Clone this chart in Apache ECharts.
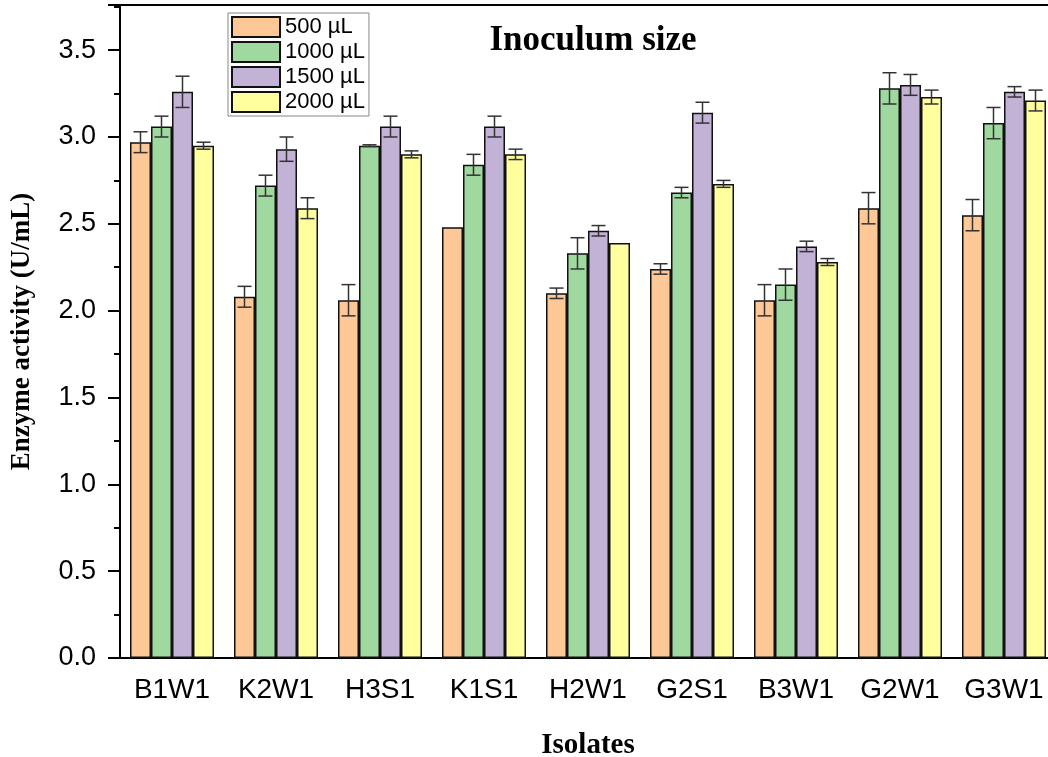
<!DOCTYPE html>
<html>
<head>
    <meta charset="utf-8" />
    <title>Inoculum size</title>
    <script src="https://cdnjs.cloudflare.com/ajax/libs/echarts/6.0.0/echarts.min.js"></script>
    <style>
        body, html {
            margin: 0;
            padding: 0;
            background: #fff;
        }
        #chart {
            width: 1048px;
            height: 757px;
        }
    </style>
</head>
<body>
<div id="chart"></div>
<script type="text/javascript">
    // 数据
    var isolates = ['B1W1', 'K2W1', 'H3S1', 'K1S1', 'H2W1', 'G2S1', 'B3W1', 'G2W1', 'G3W1'];
    var seriesNames = ['500 µL', '1000 µL', '1500 µL', '2000 µL'];

    var v500  = [2.97, 2.08, 2.06, 2.48, 2.10, 2.24, 2.06, 2.59, 2.55];
    var v1000 = [3.06, 2.72, 2.95, 2.84, 2.33, 2.68, 2.15, 3.28, 3.08];
    var v1500 = [3.26, 2.93, 3.06, 3.06, 2.46, 3.14, 2.37, 3.30, 3.26];
    var v2000 = [2.95, 2.59, 2.90, 2.90, 2.39, 2.73, 2.28, 3.23, 3.21];

    var e500  = [0.06, 0.06, 0.09, 0, 0.03, 0.03, 0.09, 0.09, 0.09];
    var e1000 = [0.06, 0.06, 0.005, 0.06, 0.09, 0.03, 0.09, 0.09, 0.09];
    var e1500 = [0.09, 0.07, 0.06, 0.06, 0.03, 0.06, 0.03, 0.06, 0.03];
    var e2000 = [0.02, 0.06, 0.02, 0.03, 0, 0.02, 0.02, 0.04, 0.06];

    var colors = ['#FDC896', '#A0D9A0', '#C2B2D6', '#FFFF9E'];
    var barW = 21;

    var chart = echarts.init(document.getElementById('chart'));

    var values = [v500, v1000, v1500, v2000];
    var errors = [e500, e1000, e1500, e2000];

    // 误差线数据: [类别, 值, 误差, 系列序号]
    var errData = [];
    for (var s = 0; s < 4; s++) {
        for (var i = 0; i < isolates.length; i++) {
            errData.push([i, values[s][i], errors[s][i], s]);
        }
    }

    function renderError(params, api) {
        var idx = api.value(0);
        var val = api.value(1);
        var err = api.value(2);
        var s = api.value(3);
        if (!err) return;
        var off = (s - 1.5) * barW;
        var hi = api.coord([idx, val + err]);
        var lo = api.coord([idx, val - err]);
        var x = hi[0] + off;
        var cap = 7;
        var style = { stroke: '#333', lineWidth: 1.5 };
        return {
            type: 'group',
            children: [
                { type: 'line', shape: { x1: x, y1: hi[1], x2: x, y2: lo[1] }, style: style },
                { type: 'line', shape: { x1: x - cap, y1: hi[1], x2: x + cap, y2: hi[1] }, style: style },
                { type: 'line', shape: { x1: x - cap, y1: lo[1], x2: x + cap, y2: lo[1] }, style: style }
            ]
        };
    }

    var series = [];
    for (var k = 0; k < 4; k++) {
        series.push({
            name: seriesNames[k],
            type: 'bar',
            data: values[k],
            barWidth: barW,
            barGap: '0%',
            itemStyle: {
                color: colors[k],
                borderColor: '#111',
                borderWidth: 1.5
            }
        });
    }
    series.push({
        type: 'custom',
        renderItem: renderError,
        data: errData,
        z: 10,
        silent: true
    });

    var option = {
        animation: false,
        title: {
            text: 'Inoculum size',
            left: 588,
            top: 18,
            textAlign: 'center',
            textStyle: {
                fontFamily: 'Liberation Serif',
                fontWeight: 'bold',
                fontSize: 35,
                color: '#000'
            }
        },
        legend: {
            data: seriesNames,
            orient: 'vertical',
            left: 228,
            top: 13,
            icon: 'rect',
            itemWidth: 48,
            itemHeight: 20,
            itemGap: 3,
            padding: [3, 4, 3, 3],
            borderColor: '#888',
            borderWidth: 1,
            textStyle: {
                fontFamily: 'Liberation Sans',
                fontSize: 22,
                lineHeight: 20,
                color: '#000'
            }
        },
        grid: {
            left: 120,
            top: 5,
            width: 936,
            height: 653,
            outerBoundsMode: 'none',
            containLabel: false,
            show: true,
            borderColor: '#000',
            borderWidth: 2,
            backgroundColor: 'transparent'
        },
        xAxis: [
            {
                type: 'category',
                data: isolates,
                name: 'Isolates',
                nameLocation: 'middle',
                nameGap: 73,
                nameTextStyle: {
                    fontFamily: 'Liberation Serif',
                    fontWeight: 'bold',
                    fontSize: 29,
                    color: '#000'
                },
                axisLine: { lineStyle: { color: '#000', width: 2 } },
                axisTick: {
                    alignWithLabel: true,
                    length: 12,
                    lineStyle: { color: '#000', width: 2 }
                },
                axisLabel: {
                    margin: 18,
                    fontFamily: 'Liberation Sans',
                    fontSize: 28,
                    color: '#000'
                }
            },
            {
                // 类别边界处的短刻度
                type: 'category',
                data: isolates,
                position: 'bottom',
                axisLine: { show: false },
                axisTick: {
                    length: 5,
                    lineStyle: { color: '#000', width: 2 }
                },
                axisLabel: { show: false }
            }
        ],
        yAxis: {
            type: 'value',
            min: 0,
            max: 3.76,
            interval: 0.5,
            name: 'Enzyme activity (U/mL)',
            nameLocation: 'middle',
            nameGap: 84,
            nameTextStyle: {
                fontFamily: 'Liberation Serif',
                fontWeight: 'bold',
                fontSize: 27,
                color: '#000'
            },
            splitLine: { show: false },
            axisLine: { show: true, lineStyle: { color: '#000', width: 2 } },
            axisTick: {
                show: true,
                length: 12,
                lineStyle: { color: '#000', width: 2 }
            },
            minorTick: {
                show: true,
                splitNumber: 2,
                length: 6,
                lineStyle: { color: '#000', width: 2 }
            },
            axisLabel: {
                showMaxLabel: false,
                margin: 24,
                fontFamily: 'Liberation Sans',
                fontSize: 27,
                color: '#000',
                formatter: function (v) { return v.toFixed(1); }
            }
        },
        series: series
    };
    chart.setOption(option);
</script>
</body>
</html>
